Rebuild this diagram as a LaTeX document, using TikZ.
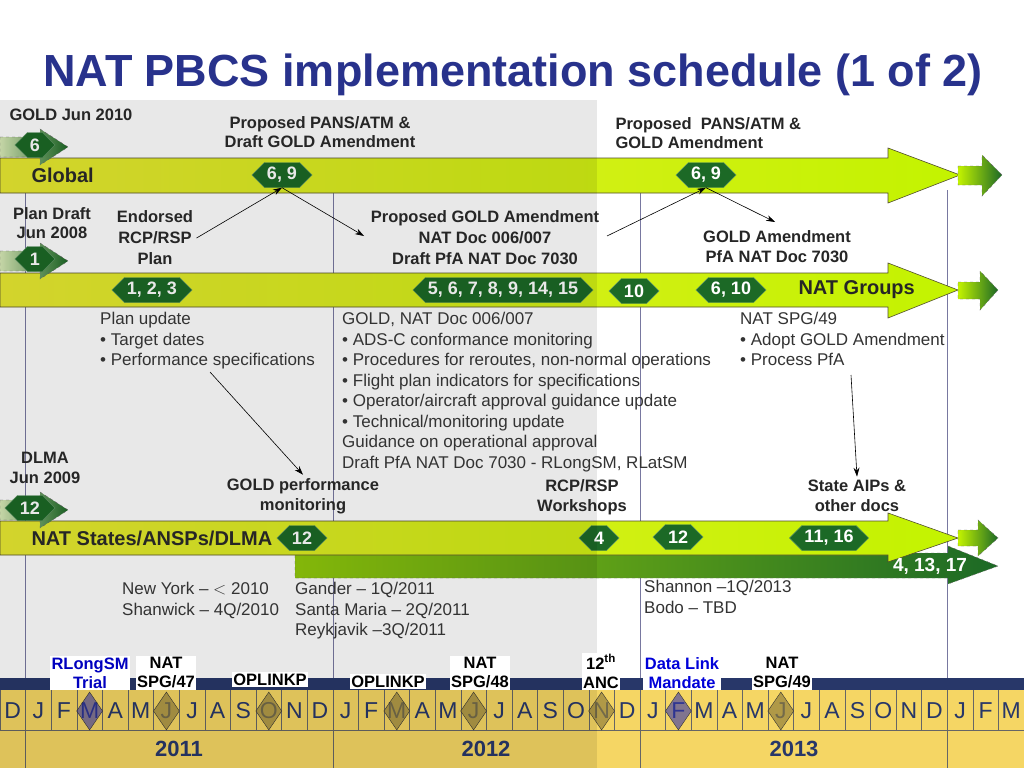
\documentclass[tikz,border=0pt]{standalone}
\usepackage{fontspec}
\setmainfont{Liberation Sans}
\usetikzlibrary{shapes.symbols,shapes.geometric,arrows.meta}
\definecolor{ttl}{RGB}{40,50,140}
\definecolor{hexg}{RGB}{28,105,38}
\definecolor{navy}{RGB}{40,55,105}
\definecolor{cell}{RGB}{245,214,100}
\definecolor{bandL}{RGB}{232,234,50}
\definecolor{bandR}{RGB}{195,243,0}
\definecolor{vline}{RGB}{120,120,160}
\tikzset{
 hexa/.style={signal, signal to=east and west, fill=hexg, draw=hexg!70!white, text=white, font=\fontsize{18}{18}\selectfont\bfseries, inner sep=2.5pt, minimum height=25pt},
 lbl/.style={align=center, font=\fontsize{16.5}{19.5}\selectfont\bfseries, text=black!85},
 body/.style={align=left, font=\fontsize{17}{20.5}\selectfont, text=black!80, anchor=north west, inner sep=0pt},
 band/.style={draw=black!55!olive, line width=0.6pt, left color=bandL, right color=bandR},
 tailarr/.style={draw=black!60, dashed, left color=bandR, right color=hexg},
 ptr/.style={-{Stealth[length=9pt,width=6pt]}, line width=0.6pt},
 mon/.style={font=\fontsize{23}{23}\selectfont, text=navy},
 yr/.style={font=\fontsize{22}{22}\selectfont\bfseries, text=navy},
 ms/.style={fill=white, inner sep=1.5pt, align=center, font=\fontsize{16.5}{19}\selectfont\bfseries, anchor=south},
 dia/.style={diamond, draw=black!80, fill=black!40!cell, fill opacity=0.7, minimum width=26pt, minimum height=38pt, inner sep=0pt, aspect=0.68},
 grp/.style={font=\fontsize{20}{20}\selectfont\bfseries, text=black!85, anchor=west}
}
\begin{document}
\begin{tikzpicture}[x=1pt,y=-1pt]
\useasboundingbox (0,0) rectangle (1024,768);
\fill[white] (0,0) rectangle (1024,768);
\node[font=\fontsize{45}{45}\selectfont\bfseries, text=ttl] (title) at (513,75) {NAT PBCS implementation schedule (1 of 2)};
\foreach \x in {25,333,640,947} \draw[vline, line width=0.7pt] (\x,190) -- (\x,690);
\fill[navy] (0,678) rectangle (1024,690);
\fill[cell] (0,690) rectangle (1024,768);
\foreach \i in {0,...,40} \draw[black!60, line width=0.5pt] (\i*25.6,690) -- (\i*25.6,730);
\draw[black!60, line width=0.5pt] (0,730) -- (1024,730);
\foreach \x in {25,333,640,947} \draw[black!60, line width=0.6pt] (\x,730) -- (\x,768);
\foreach \m [count=\i from 0] in {D,J,F,M,A,M,J,J,A,S,O,N,D,J,F,M,A,M,J,J,A,S,O,N,D,J,F,M,A,M,J,J,A,S,O,N,D,J,F,M}
  \node[mon] at (\i*25.6+12.8,711) {\m};
\foreach \i in {6,10,15,18,23,30} \node[dia] at (\i*25.6+12.8,711) {};
\foreach \i in {3,26} \node[dia, fill=blue!60!black!80, fill opacity=0.6] at (\i*25.6+12.8,711) {};
\node[yr] (y1) at (179,749) {2011};
\node[yr] (y2) at (486,749) {2012};
\node[yr] (y3) at (794,749) {2013};
\path[band] (0,158) -- (888,158) -- (888,148) -- (960,175) -- (888,203) -- (888,193) -- (0,193) -- cycle;
\path[tailarr] (958,166) -- (982,166) -- (982,155) -- (1002,175) -- (982,196) -- (982,185) -- (958,185) -- cycle;
\path[band] (0,273) -- (888,273) -- (888,263) -- (958,290) -- (888,318) -- (888,307) -- (0,307) -- cycle;
\path[tailarr] (958,282) -- (980,282) -- (980,271) -- (998,290) -- (980,310) -- (980,299) -- (958,299) -- cycle;
\path[tailarr, left color=bandR!70!hexg] (295,553) -- (948,553) -- (948,546) -- (998,566) -- (948,584) -- (948,578) -- (295,578) -- cycle;
\path[band] (0,521) -- (888,521) -- (888,513) -- (958,538) -- (888,562) -- (888,555) -- (0,555) -- cycle;
\path[tailarr] (958,530) -- (978,530) -- (978,520) -- (998,538) -- (978,556) -- (978,546) -- (958,546) -- cycle;
\foreach \y in {147,261,510}
  \path[tailarr, left color=bandR!60!hexg!30!white] (0,\y-10) -- (40,\y-10) -- (40,\y-18) -- (68,\y) -- (40,\y+18) -- (40,\y+10) -- (0,\y+10) -- cycle;
\node[hexa] (h6) at (35,145) {6};
\node[hexa] (g69a) at (282,175) {6, 9};
\node[hexa] (g69b) at (706,175) {6, 9};
\node[hexa] (h1) at (35,259) {1};
\node[hexa] (h123) at (152,290) {1, 2, 3};
\node[hexa] (h5) at (503,290) {5, 6, 7, 8, 9, 14, 15};
\node[hexa] (h10) at (634,291) {10};
\node[hexa] (h610) at (731,290) {6, 10};
\node[hexa] (h12a) at (30,508) {12};
\node[hexa] (h12b) at (302,538) {12};
\node[hexa] (h4) at (599,538) {4};
\node[hexa] (h12c) at (678,537) {12};
\node[hexa] (h1116) at (829,538) {11, 16};
\node[text=white, font=\fontsize{19}{19}\selectfont\bfseries] (n41317) at (930,566) {4, 13, 17};
\fill[black, opacity=0.09] (0,100) rectangle (597,768);
\node[lbl, anchor=west] (gold10) at (6,115) {GOLD Jun 2010};
\node[lbl] (ppans1) at (320,132) {Proposed PANS/ATM \&\\Draft GOLD Amendment};
\node[lbl, align=left, anchor=west] (ppans2) at (612,133) {Proposed\ \ PANS/ATM \&\\GOLD Amendment};
\node[grp] (glob) at (28,175) {Global};
\node[lbl] (pdraft) at (52,223) {Plan Draft\\Jun 2008};
\node[lbl, font=\fontsize{16.5}{21}\selectfont\bfseries] (endo) at (155,238) {Endorsed\\RCP/RSP\\Plan};
\node[lbl, font=\fontsize{16.5}{21}\selectfont\bfseries] (pgold) at (485,238) {Proposed GOLD Amendment\\NAT Doc 006/007\\Draft PfA NAT Doc 7030};
\node[lbl, font=\fontsize{16.5}{20}\selectfont\bfseries] (gamend) at (777,247) {GOLD Amendment\\PfA NAT Doc 7030};
\node[grp] (natg) at (795,290) {NAT Groups};
\node[body] (pupd) at (100,312) {Plan update\\\textbullet\ Target dates\\\textbullet\ Performance specifications};
\node[body] (goldb) at (342,312) {GOLD, NAT Doc 006/007\\\textbullet\ ADS-C conformance monitoring\\\textbullet\ Procedures for reroutes, non-normal operations\\\textbullet\ Flight plan indicators for specifications\\\textbullet\ Operator/aircraft approval guidance update\\\textbullet\ Technical/monitoring update\\Guidance on operational approval\\Draft PfA NAT Doc 7030 - RLongSM, RLatSM};
\node[body] (spg49) at (740,312) {NAT SPG/49\\\textbullet\ Adopt GOLD Amendment\\\textbullet\ Process PfA};
\node[lbl] (dlma) at (45,468) {DLMA\\Jun 2009};
\node[lbl, font=\fontsize{16.5}{20}\selectfont\bfseries] (gperf) at (303,496) {GOLD performance\\monitoring};
\node[lbl, font=\fontsize{16.5}{20}\selectfont\bfseries] (works) at (582,497) {RCP/RSP\\Workshops};
\node[lbl, font=\fontsize{16.5}{20}\selectfont\bfseries] (aips) at (857,496) {State AIPs \&\\other docs};
\node[grp] (nats) at (28,538) {NAT States/ANSPs/DLMA};
\node[body] (ny) at (122,582) {New York -- $<$ 2010\\Shanwick -- 4Q/2010};
\node[body] (gan) at (295,582) {Gander -- 1Q/2011\\Santa Maria -- 2Q/2011\\Reykjavik --3Q/2011};
\node[body] (shan) at (644,580) {Shannon --1Q/2013\\Bodo -- TBD};
\node[ms, text=blue!75!black] (rl) at (90,690) {RLongSM\\Trial};
\node[ms] (s47) at (166,690) {NAT\\SPG/47};
\node[ms] (op1) at (270,687) {OPLINKP};
\node[ms] (op2) at (388,689) {OPLINKP};
\node[ms] (s48) at (480,690) {NAT\\SPG/48};
\node[ms] (anc) at (601,690) {12\textsuperscript{th}\\ANC};
\node[ms, text=blue!85!black] (dlm) at (682,690) {Data Link\\Mandate};
\node[ms] (s49) at (782,690) {NAT\\SPG/49};
\draw[ptr] (endo.east) -- (g69a.south);
\draw[ptr] (g69a.south) -- (364,236);
\draw[ptr] (607,236) -- (g69b.south);
\draw[ptr] (g69b.south) -- (775,222);
\draw[ptr] (210,372) -- (gperf.north);
\draw[ptr] (851,375) -- (aips.north);
\end{tikzpicture}
\end{document}
